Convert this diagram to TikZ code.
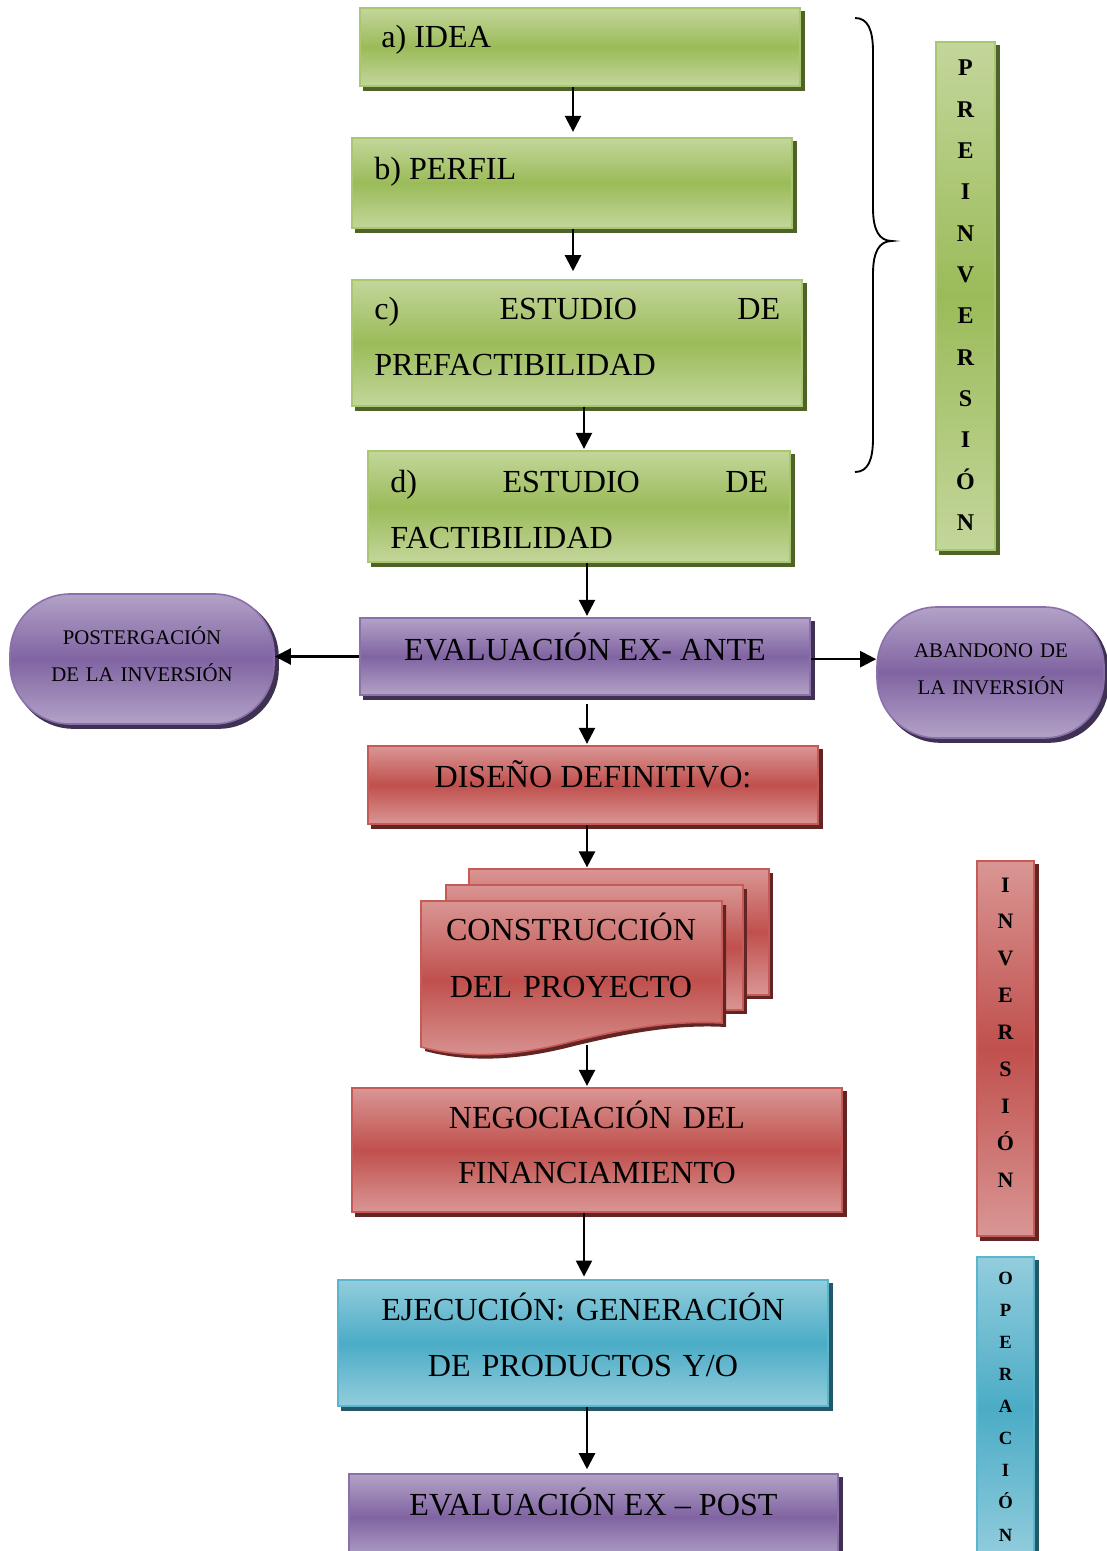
\documentclass[tikz,border=0pt]{standalone}
\usepackage{fontspec}
\setmainfont{Liberation Serif}
\usetikzlibrary{arrows.meta,backgrounds}
\definecolor{gL}{HTML}{C3D69B}
\definecolor{gD}{HTML}{9BBB59}
\definecolor{gB}{HTML}{A9C671}
\definecolor{gS}{HTML}{4F6228}
\definecolor{rL}{HTML}{D99694}
\definecolor{rD}{HTML}{C0504D}
\definecolor{rB}{HTML}{C65A57}
\definecolor{rS}{HTML}{632523}
\definecolor{pL}{HTML}{B3A2C7}
\definecolor{pD}{HTML}{8064A2}
\definecolor{pB}{HTML}{8B70AB}
\definecolor{pS}{HTML}{3F3151}
\definecolor{cL}{HTML}{93CDDD}
\definecolor{cD}{HTML}{4BACC6}
\definecolor{cB}{HTML}{5AB5CD}
\definecolor{cS}{HTML}{215968}
\newcommand\myboxshadow[2]{\fill[#2] ([xshift=3pt,yshift=-3pt]#1.south west) rectangle ([xshift=3pt,yshift=-3pt]#1.north east);}
\newcommand\mypillshadow[2]{\fill[#2,rounded corners=45pt] ([xshift=3pt,yshift=-3pt]#1.south west) rectangle ([xshift=3pt,yshift=-3pt]#1.north east);}
\begin{document}
\begin{tikzpicture}[x=0.75pt,y=-0.75pt,
  box/.style={rectangle,line width=1.2pt,inner sep=0pt},
  gbox/.style={box,draw=gB,top color=gL,bottom color=gL,middle color=gD},
  rbox/.style={box,draw=rB,top color=rL,bottom color=rL,middle color=rD},
  pbox/.style={box,draw=pB,top color=pL,bottom color=pL,middle color=pD},
  cbox/.style={box,draw=cB,top color=cL,bottom color=cL,middle color=cD},
  pill/.style={rounded corners=45pt},
  txt/.style={inner sep=0pt,font=\fontsize{24.1pt}{42pt}\selectfont},
  ptxt/.style={inner sep=0pt,font=\fontsize{15.6pt}{27.75pt}\selectfont,text width=190pt,align=center},
  vtxt/.style={inner sep=0pt,anchor=base,text width=30pt,align=center},
  arr/.style={line width=1.8pt,-{Triangle[length=12pt,width=12pt]}},
  brace/.style={line width=1.4pt},
  rsheet/.style={draw=rB,line width=1.2pt,top color=rL,bottom color=rL,middle color=rD}
]
\useasboundingbox (0,0) rectangle (1106,1551);
\clip (0,0) rectangle (1106,1551);

% columns for connectors
\coordinate (c573) at (573,0);
\coordinate (c584) at (584,0);
\coordinate (c587) at (587,0);

% boxes
\node[gbox,minimum width=330pt,minimum height=58.5pt] (idea) at (580,47) {};
\node[gbox,minimum width=330pt,minimum height=67.5pt] (perfil) at (572,183) {};
\node[gbox,minimum width=337.5pt,minimum height=94.5pt] (pref) at (577,343) {};
\node[gbox,minimum width=316.5pt,minimum height=83.25pt] (fact) at (579,506.5) {};
\node[pbox,minimum width=337.5pt,minimum height=57.75pt] (exante) at (585,656.5) {};
\node[pbox,pill,minimum width=198pt,minimum height=97.5pt] (posterg) at (142,659) {};
\node[pbox,pill,minimum width=170.25pt,minimum height=98.25pt] (aband) at (990.5,672.5) {};
\node[rbox,minimum width=337.5pt,minimum height=58.5pt] (diseno) at (593,785) {};
\node[rbox,minimum width=367.5pt,minimum height=93pt] (negoc) at (597,1150) {};
\node[cbox,minimum width=367.5pt,minimum height=94.5pt] (ejec) at (583,1343) {};
\node[pbox,minimum width=366.75pt,minimum height=64.5pt] (expost) at (593.5,1517) {};
\node[gbox,minimum width=44.25pt,minimum height=381pt] (preinv) at (965.5,296) {};
\node[rbox,minimum width=42.75pt,minimum height=281.25pt] (inv) at (1005.5,1048.5) {};
\node[cbox,minimum width=42.75pt,minimum height=227.25pt] (oper) at (1005.5,1408.5) {};

% shadows
\begin{scope}[on background layer]
\myboxshadow{idea}{gS}
\myboxshadow{perfil}{gS}
\myboxshadow{pref}{gS}
\myboxshadow{fact}{gS}
\myboxshadow{exante}{pS}
\mypillshadow{posterg}{pS}
\mypillshadow{aband}{pS}
\myboxshadow{diseno}{rS}
\myboxshadow{negoc}{rS}
\myboxshadow{ejec}{cS}
\myboxshadow{expost}{pS}
\myboxshadow{preinv}{gS}
\myboxshadow{inv}{rS}
\myboxshadow{oper}{cS}
\end{scope}

% multi-document (construction)
\fill[rS] (473,873) rectangle (773,999);
\shade[rsheet] (469,869) rectangle (769,995);
\fill[rS] (450,889) rectangle (747,1014);
\shade[rsheet] (446,885) rectangle (743,1010);
\fill[rS] (425,905) -- (726,905) -- (726,1027) .. controls (674,1024) and (624,1034) .. (574,1046) .. controls (524,1059) and (474,1064) .. (425,1051) -- cycle;
\shade[rsheet] (421,901) -- (722,901) -- (722,1023) .. controls (670,1020) and (620,1030) .. (570,1042) .. controls (520,1055) and (470,1060) .. (421,1047) -- cycle;
\node[inner sep=0pt,minimum width=261pt,minimum height=132pt] (constr) at (595,957) {};

% texts
\node[txt,anchor=base west] (ideaT) at (381,48) {a) IDEA};
\node[txt,anchor=base west] (perfilT) at (374,180) {b) PERFIL};
\node[txt,anchor=base west,text width=304.5pt,align=left] (prefT) at (374,320) {c)\hfill ESTUDIO\hfill DE\\PREFACTIBILIDAD};
\node[txt,anchor=base west,text width=283.5pt,align=left] (factT) at (390,492) {d)\hfill ESTUDIO\hfill DE\\FACTIBILIDAD};
\node[txt,anchor=base] (exanteT) at (585,660) {EVALUACIÓN EX- ANTE};
\node[ptxt,anchor=base] (postergT) at (142,644) {\mbox{POSTERGACIÓN}\\\mbox{DE LA INVERSIÓN}};
\node[ptxt,anchor=base] (abandT) at (991,657) {\mbox{ABANDONO DE}\\\mbox{LA INVERSIÓN}};
\node[txt,anchor=base] (disenoT) at (593,787) {DISEÑO DEFINITIVO:};
\node[txt,anchor=base,text width=300pt,align=center,font=\fontsize{24.1pt}{42.75pt}\selectfont] (constrT) at (571,940) {\mbox{CONSTRUCCIÓN}\\\mbox{DEL PROYECTO}};
\node[txt,anchor=base,text width=360pt,align=center,font=\fontsize{24.1pt}{41.25pt}\selectfont] (negocT) at (597,1128) {\mbox{NEGOCIACIÓN DEL}\\\mbox{FINANCIAMIENTO}};
\node[txt,anchor=base,text width=360pt,align=center] (ejecT) at (583,1320) {\mbox{EJECUCIÓN: GENERACIÓN}\\\mbox{DE PRODUCTOS Y/O}};
\node[txt,anchor=base] (expostT) at (593.5,1515) {EVALUACIÓN EX – POST};

\node[vtxt,font=\bfseries\fontsize{18pt}{31pt}\selectfont] (preinvT) at (965.5,76) {P\\R\\E\\I\\N\\V\\E\\R\\S\\I\\Ó\\N};
\node[vtxt,font=\bfseries\fontsize{16.5pt}{27.7pt}\selectfont] (invT) at (1005.5,892) {I\\N\\V\\E\\R\\S\\I\\Ó\\N};
\node[vtxt,font=\bfseries\fontsize{14pt}{24.1pt}\selectfont] (operT) at (1005.5,1284) {O\\P\\E\\R\\A\\C\\I\\Ó\\N};

% brace
\draw[brace] (855,18) .. controls (868,18) and (873,30) .. (873,52) -- (873,208) .. controls (873,230) and (879,241) .. (892,241) .. controls (879,241) and (873,252) .. (873,274) -- (873,438) .. controls (873,460) and (868,472) .. (855,472);

% connectors
\draw[arr] (idea.south -| c573) -- ([yshift=4pt]perfil.north -| c573);
\draw[arr] (perfil.south -| c573) -- ([yshift=6pt]pref.north -| c573);
\draw[arr] (pref.south -| c584) -- ([yshift=1pt]fact.north -| c584);
\draw[arr] (fact.south -| c587) -- ([yshift=1pt]exante.north -| c587);
\draw[arr] (exante.west) -- (exante.west -| posterg.east);
\draw[arr] ([yshift=-2pt]exante.east) -- ([yshift=-2pt]exante.east -| aband.west);
\draw[arr] ([yshift=-6pt]exante.south -| c587) -- ([yshift=1pt]diseno.north -| c587);
\draw[arr] (diseno.south -| c587) -- ([yshift=1pt]constr.north -| c587);
\draw[arr] (constr.south -| c587) -- ([yshift=1pt]negoc.north -| c587);
\draw[arr] (negoc.south -| c584) -- ([yshift=2pt]ejec.north -| c584);
\draw[arr] (ejec.south -| c587) -- ([yshift=3pt]expost.north -| c587);
\end{tikzpicture}
\end{document}
